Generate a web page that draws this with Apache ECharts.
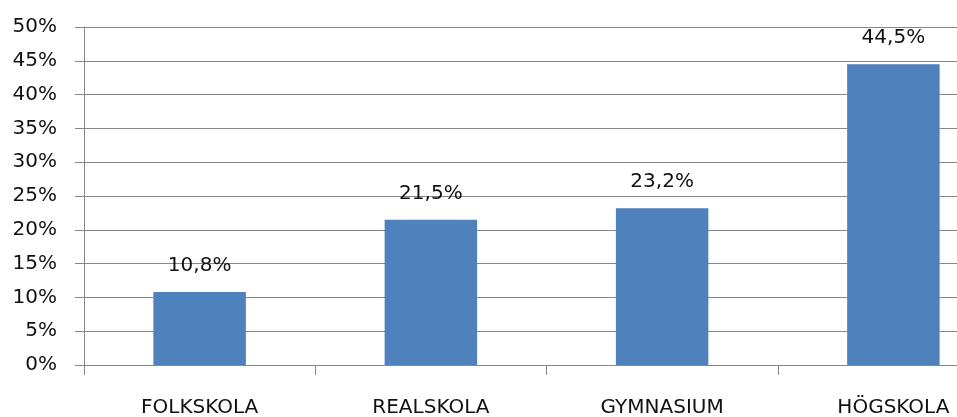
<!DOCTYPE html>
<html>
<head>
<meta charset="utf-8">
<script src="https://cdn.jsdelivr.net/npm/echarts@6/dist/echarts.min.js"></script>
<style>
  html, body { margin: 0; padding: 0; background: #fff; }
  #chart { width: 957px; height: 417px; }
</style>
</head>
<body>
<div id="chart"></div>
<script>
// data
const categories = ['FOLKSKOLA', 'REALSKOLA', 'GYMNASIUM', 'HÖGSKOLA'];
const shares = [10.8, 21.5, 23.2, 44.5];
const yTicks = [0, 5, 10, 15, 20, 25, 30, 35, 40, 45, 50];

const fmtPct = v => String(v).replace('.', ',') + '%';

const myChart = echarts.init(document.getElementById('chart'));
const option = {
  animation: false,
  textStyle: { fontFamily: 'DejaVu Sans' },
  // plot runs past the right edge, as in the picture
  grid: { left: 84, top: 27, width: 925, height: 338, containLabel: false, outerBoundsMode: 'none' },
  xAxis: {
    type: 'category',
    data: categories,
    axisLine: { lineStyle: { color: '#878787', width: 1 } },
    axisTick: { show: true, length: 10, alignWithLabel: false, lineStyle: { color: '#878787' } },
    splitLine: { show: false },
    axisLabel: { color: '#111', fontSize: 20, margin: 33 }
  },
  yAxis: {
    type: 'value',
    min: yTicks[0],
    max: yTicks[yTicks.length - 1],
    interval: 5,
    axisLine: { show: true, lineStyle: { color: '#878787', width: 1 } },
    axisTick: { show: true, length: 9, lineStyle: { color: '#878787' } },
    splitLine: { lineStyle: { color: '#878787', width: 1 } },
    axisLabel: { color: '#111', fontSize: 20, margin: 27, formatter: v => v + '%' }
  },
  series: [{
    type: 'bar',
    data: shares,
    barWidth: '40%',
    itemStyle: { color: '#4F81BD' },
    label: {
      show: true,
      position: 'top',
      distance: 16,
      color: '#111',
      fontSize: 20,
      formatter: p => fmtPct(p.value)
    }
  }]
};
myChart.setOption(option);
</script>
</body>
</html>
